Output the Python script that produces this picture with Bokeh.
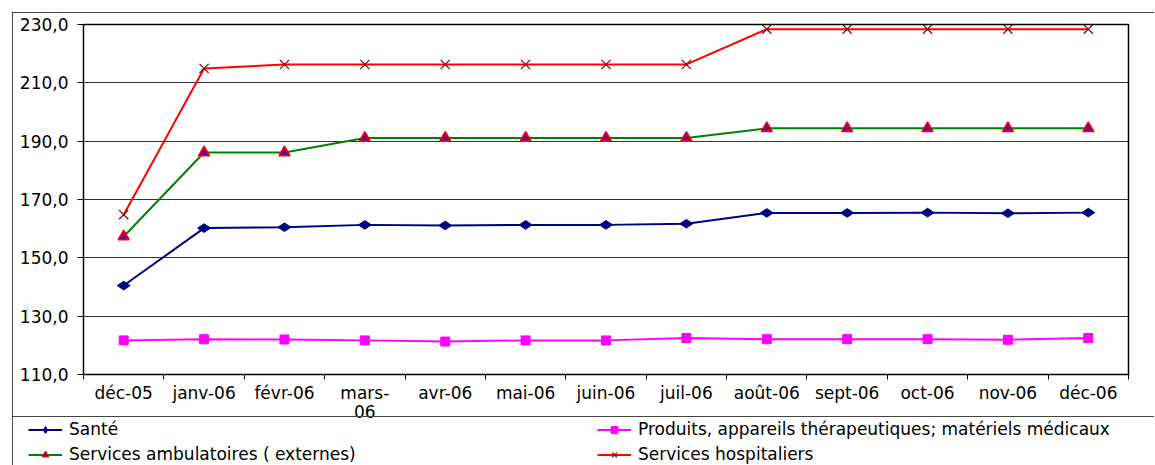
from bokeh.plotting import figure
from bokeh.models import (FixedTicker, Range1d, Legend, LegendItem, ColumnDataSource)
from bokeh.embed import file_html
from bokeh.resources import INLINE

months = ["déc-05", "janv-06", "févr-06", "mars-06", "avr-06", "mai-06", "juin-06",
          "juil-06", "août-06", "sept-06", "oct-06", "nov-06", "déc-06"]
sante = [140.5, 160.2, 160.5, 161.3, 161.1, 161.3, 161.3, 161.7, 165.4, 165.4, 165.5, 165.3, 165.5]
produits = [121.7, 122.1, 122.0, 121.7, 121.3, 121.7, 121.7, 122.5, 122.1, 122.1, 122.1, 121.9, 122.5]
ambulatoires = [157.3, 186.1, 186.1, 191.1, 191.1, 191.1, 191.1, 191.1, 194.4, 194.4, 194.4, 194.4, 194.4]
hospitaliers = [164.8, 214.9, 216.3, 216.3, 216.3, 216.3, 216.3, 216.3, 228.4, 228.4, 228.4, 228.4, 228.4]
y_ticks = [110, 130, 150, 170, 190, 210, 230]
names = ["Santé", "Produits, appareils thérapeutiques; matériels médicaux",
         "Services ambulatoires ( externes)", "Services hospitaliers"]

FONT = "DejaVu Sans"
xs = list(range(len(months)))

p = figure(width=1142, height=420, output_backend="svg", toolbar_location=None,
           x_range=Range1d(-0.5, len(months) - 0.5), y_range=Range1d(110, 230),
           min_border_left=70, min_border_right=27, min_border_top=11, min_border_bottom=59,
           margin=(12, 0, 0, 12),
           styles={"border-left": "1px solid #444444", "border-top": "1px solid #444444"})
p.outline_line_color = "black"
p.outline_line_width = 1.5
p.xgrid.grid_line_color = None
p.ygrid.grid_line_color = "#333333"
p.ygrid.grid_line_width = 1

labels = {i: m for i, m in enumerate(months)}
labels[3] = "mars-\n06"
p.xaxis.ticker = FixedTicker(ticks=xs, minor_ticks=[i - 0.5 for i in range(len(months) + 1)])
p.xaxis.major_label_overrides = labels
p.xaxis.major_tick_out = 0
p.xaxis.major_tick_in = 0
p.xaxis.minor_tick_out = 5
p.xaxis.minor_tick_in = 0
p.xaxis.minor_tick_line_color = "black"
p.xaxis.major_label_standoff = 3
p.xaxis.major_label_text_line_height = 0.95

p.yaxis.ticker = FixedTicker(ticks=y_ticks)
p.yaxis.major_label_overrides = {t: f"{t},0" for t in y_ticks}
p.yaxis.major_tick_out = 6
p.yaxis.major_tick_in = 0
p.yaxis.minor_tick_out = 0
p.yaxis.minor_tick_in = 0
p.yaxis.major_label_standoff = 9

for ax in (p.xaxis, p.yaxis):
    ax.axis_line_color = "black"
    ax.major_tick_line_color = "black"
    ax.major_label_text_font = FONT
    ax.major_label_text_font_size = "17px"
    ax.major_label_text_color = "black"

src = ColumnDataSource(dict(x=xs, sante=sante, produits=produits,
                            amb=ambulatoires, hosp=hospitaliers))

p.line("x", "sante", source=src, line_color="#000080", line_width=2)
p.scatter("x", "sante", source=src, marker="diamond", size=13, angle=1.5708,
          fill_color="#000080", line_color="#000080")
p.line("x", "produits", source=src, line_color="#FF00FF", line_width=2)
p.scatter("x", "produits", source=src, marker="square", size=9,
          fill_color="#FF00FF", line_color="#FF00FF")
p.line("x", "amb", source=src, line_color="#008000", line_width=2)
p.scatter("x", "amb", source=src, marker="triangle", size=11,
          fill_color="#800080", line_color="#FF0000", line_width=1.5)
p.line("x", "hosp", source=src, line_color="#FF0000", line_width=2)
p.scatter("x", "hosp", source=src, marker="x", size=13,
          line_color="#800000", line_width=1.2)

# Legend panel
q = figure(width=1142, height=49, output_backend="svg", toolbar_location=None,
           x_range=Range1d(0, 1), y_range=Range1d(0, 1),
           x_axis_location=None, y_axis_location=None,
           min_border=0, min_border_left=0, min_border_right=0,
           min_border_top=0, min_border_bottom=0,
           margin=(-16, 0, 0, 12),
           styles={"border-left": "1px solid #444444", "border-top": "1px solid #444444"})
q.grid.grid_line_color = None
q.outline_line_color = None
q.background_fill_alpha = 0
q.border_fill_alpha = 0

off = ColumnDataSource(dict(x=[-10], y=[-10]))
specs = [
    ("#000080", "diamond", "#000080", "#000080"),
    ("#FF00FF", "square", "#FF00FF", "#FF00FF"),
    ("#008000", "triangle", "#800080", "#FF0000"),
    ("#FF0000", "x", None, "#800000"),
]
items = []
for name, (lc, mk, fc, mlc) in zip(names, specs):
    lr = q.line("x", "y", source=off, line_color=lc, line_width=2)
    if fc is None:
        sr = q.scatter("x", "y", source=off, marker=mk, line_color=mlc, line_width=1.2)
    elif mk == "diamond":
        sr = q.scatter("x", "y", source=off, marker=mk, angle=1.5708,
                       fill_color=fc, line_color=mlc)
    else:
        sr = q.scatter("x", "y", source=off, marker=mk, fill_color=fc, line_color=mlc)
    items.append(LegendItem(label=name, renderers=[lr, sr]))

leg = Legend(items=items, location=(15, 2), orientation="horizontal", ncols=2,
             glyph_width=34, glyph_height=17, label_height=17, label_width=523,
             label_standoff=7, spacing=5, padding=0, margin=0,
             border_line_color=None, background_fill_alpha=0,
             label_text_font=FONT, label_text_font_size="17px", label_text_color="black")
q.add_layout(leg, "center")

open("out.html", "w").write(file_html([p, q], INLINE))
